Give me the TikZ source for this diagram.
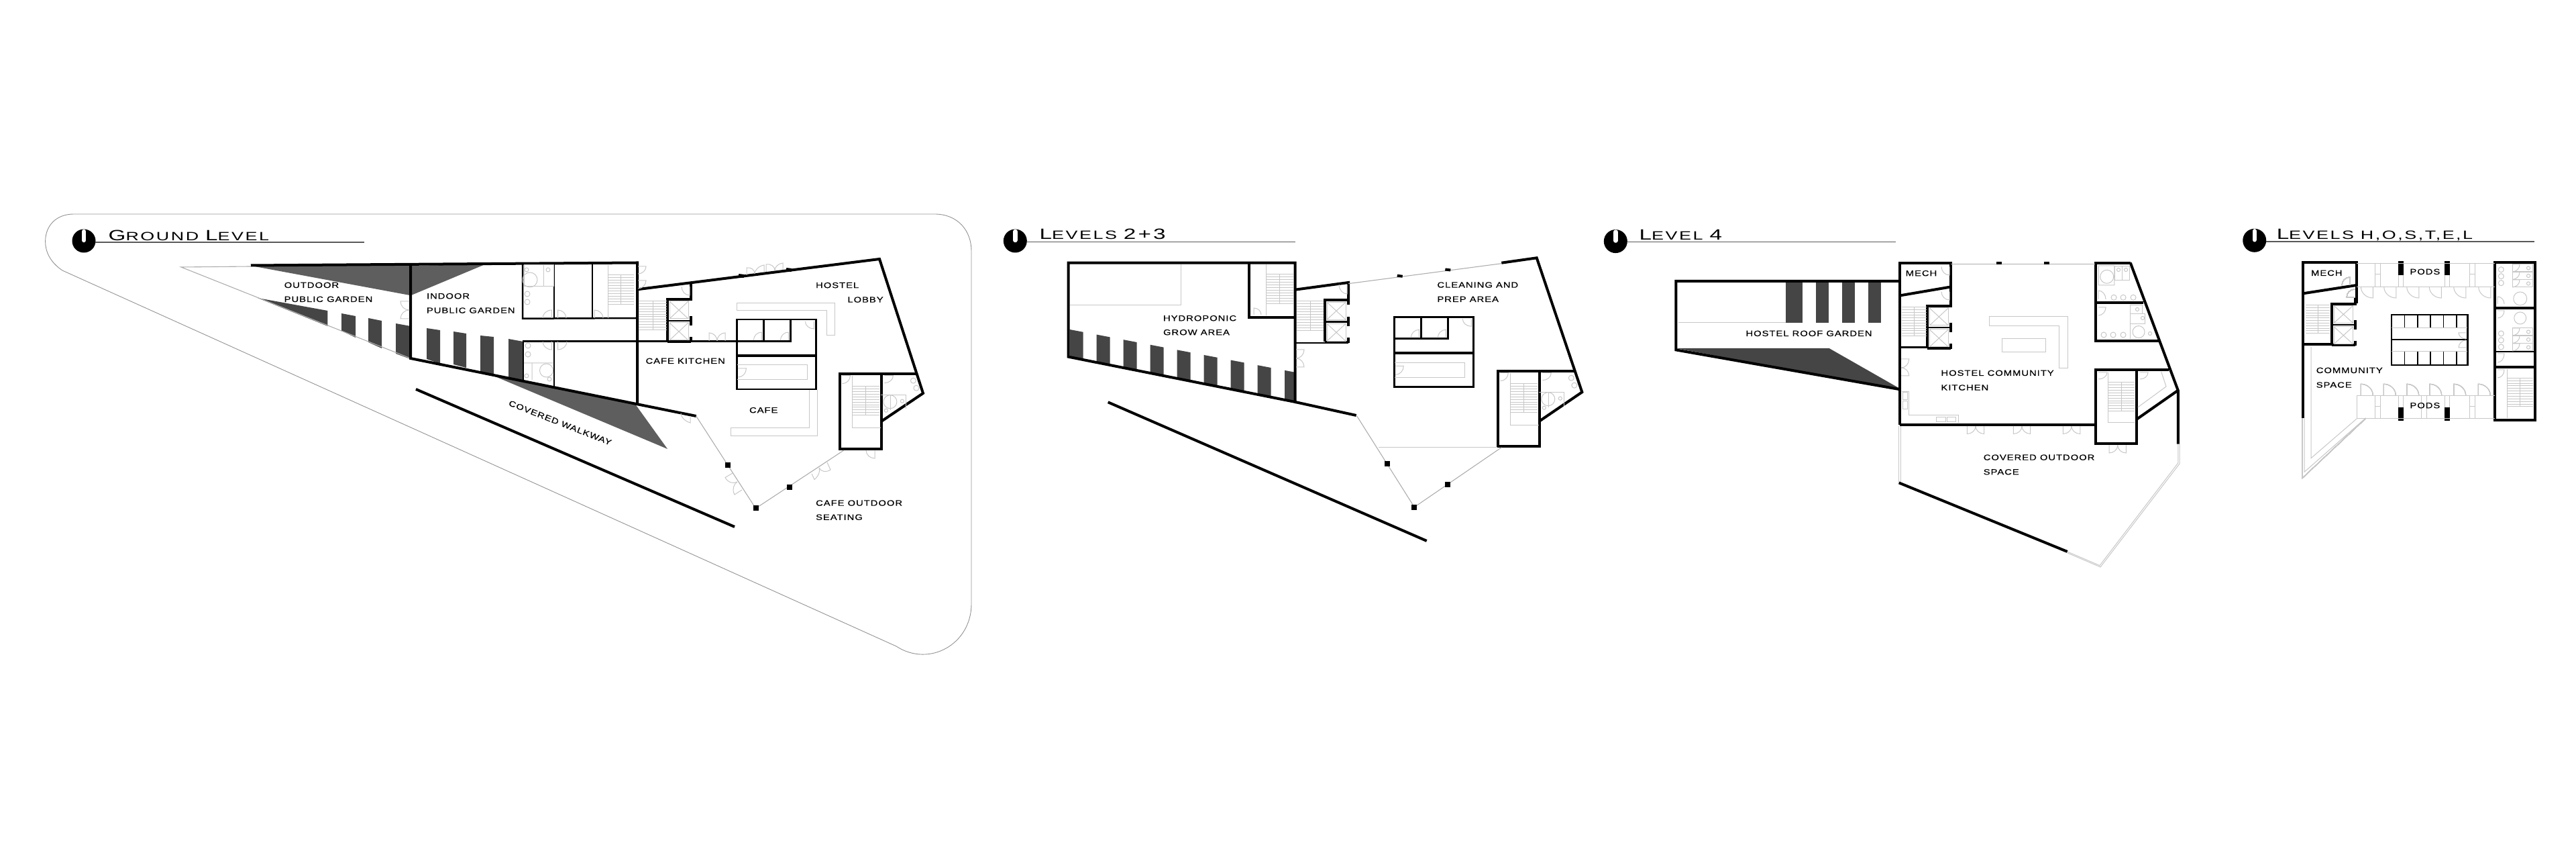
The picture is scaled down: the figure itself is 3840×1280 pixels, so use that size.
\documentclass[tikz,border=0pt]{standalone}
\usepackage{fontspec}
\usetikzlibrary{calc}
\newfontfamily\labelfont[FakeStretch=1.24,LetterSpace=8,FakeBold=0.4]{Liberation Sans}
\newfontfamily\titlefont[FakeStretch=1.5,LetterSpace=14]{Liberation Sans}
\definecolor{stripe}{gray}{0.27}
\definecolor{wedgegray}{gray}{0.37}
\definecolor{fixline}{gray}{0.78}
\definecolor{glassline}{gray}{0.68}
\tikzset{
	wall/.style={line width=0.04cm,black},
	partition/.style={line width=0.025cm,black},
	fixture/.style={line width=0.01cm,fixline},
	glass/.style={line width=0.011cm,glassline},
	outline/.style={line width=0.009cm,gray!85},
	post/.style={fill=black,draw=none},
	roomlabel/.style={font=\labelfont\fontsize{3.4pt}{3.4pt}\selectfont,inner sep=0pt,anchor=base west},
	leveltitle/.style={font=\titlefont\fontsize{5.1pt}{5.1pt}\selectfont,inner sep=0pt,anchor=base west},
}
\newcommand{\capl}[1]{{\fontsize{6.3pt}{6.3pt}\selectfont #1}}
% hinge, leaf end, closing point
\newcommand{\door}[3]{\draw[fixture] (#1) -- (#2) .. controls ($(#2)+0.55*(#3)-0.55*(#1)$) and ($(#3)+0.55*(#2)-0.55*(#1)$) .. (#3);}
\newcommand{\stairrun}[4]{%
	\foreach \t in {0,...,11}
		\draw[fixture] (#1,{#2+\t*(#4-#2)/11}) -- (#3,{#2+\t*(#4-#2)/11});
	\draw[fixture] ({(#1+#3)/2},#2) -- ({(#1+#3)/2},#4);}
\newcommand{\northmark}[4]{%
	\fill (#1,#2) circle (17.5);
	\draw[white,line width=0.065cm,line cap=round] (#1,#2-14) -- (#1,#2-1);
	\draw[line width=0.012cm,gray!70!black] (#1+17,#3) -- (#4,#3);}
% lift shafts, origin at the inner top corner of the core
\newcommand{\liftcore}{%
	\draw[wall] (0,62) -- (0,0) -- (35,0) -- (35,-10);
	\draw[partition] (0,32) -- (35,32);
	\draw[wall] (35,25) -- (35,39) (35,56) -- (35,64);
	\draw[wall] (0,63) -- (35,63);
	\foreach \y in {3,35}{
		\draw[fixture] (3,\y) rectangle (31,\y+26);
		\draw[fixture] (3,\y) -- (31,\y+26) (3,\y+26) -- (31,\y);}}
% washroom block, origin at its top left
\newcommand{\washblock}{%
	\draw[partition] (0,0) rectangle (118,104);
	\draw[wall] (0,54) -- (118,54);
	\draw[partition] (0,32) -- (80,32) -- (80,0) (40,0) -- (40,32);
	\door{37,31}{37,19}{25,31}
	\door{77,31}{77,19}{65,31}
	\door{115,3}{115,14}{102,3}
	\draw[fixture] (1,68) -- (105,68) -- (105,90) -- (1,90);
	\door{2,73}{14,73}{2,86}}
% stair tower and corner washroom, origin at the tower's top left
\newcommand{\eaststair}{%
	\draw[wall] (0,0) rectangle (61.5,112);
	\draw[wall] (61.5,0) -- (113,0);
	\stairrun{18.5}{19}{58.5}{62}
	\draw[fixture] (18.5,3) -- (18.5,81) -- (61,81);
	\door{3,3}{15,3}{3,15}
	\door{66,3}{79,3}{66,14}
	\draw[fixture] (109,10.5) circle (4) (113.5,21.5) circle (4) (74.5,42) circle (10);
	\draw[fixture] (61,32) -- (98,32) -- (98,52) (75,32) -- (75,54);
	\draw[fixture] (92.5,41) circle (2.6) (68.5,55) circle (2.6);}
\begin{document}
\begin{tikzpicture}[x=0.01cm,y=-0.01cm]
	\useasboundingbox (0,0) rectangle (3840,1280);
	\draw[outline] (110,319) -- (1393,319) .. controls (1428,319) and (1448,344) .. (1448,374) -- (1448,900)
		.. controls (1448,960) and (1385,995) .. (1336,963) -- (93,403)
		.. controls (75,391) and (67.6,375) .. (67.6,360) .. controls (67.6,335) and (85,319) .. (110,319) -- cycle;

	% ground level
	\northmark{125}{359}{361}{543}
	\node[leveltitle] (groundtitle) at (161,358.3) {\capl{G}ROUND \capl{L}EVEL};
	\fill[wedgegray] (374,396) -- (611,396) -- (611,440) -- cycle;
	\fill[wedgegray] (613,396) -- (723,394) -- (613,440) -- cycle;
	\fill[wedgegray] (735.6,560) -- (947.5,603) -- (995,669) -- cycle;
	\fill[stripe] (384,444) -- (488.4,463) -- (488.4,486) -- cycle;
	\foreach \xa/\xb/\ya/\yb/\yc/\yd in {509/530/467/471/493/503,549/569/474/478/510/519,590/612/482/486/527/535,
		636/656/489/492/535/542,676/695/494/497/543/548,716/736/500/502/556/560,758/780/505/509/564/569}
		\fill[stripe] (\xa,\ya) -- (\xb,\yb) -- (\xb,\yd) -- (\xa,\yc) -- cycle;
	\draw[glass] (374,397) -- (270,398) -- (612,534);
	\draw[wall] (374,395.5) -- (950,391.5) -- (950,602);
	\draw[wall] (612,395) -- (612,534) -- (1037.7,620);
	\draw[wall] (950,431.3) -- (1311,386) -- (1376,586) -- (1313.6,628);
	\draw[wall] (1030,423) -- (1030,446);
	\draw[wall] (620,580) -- (1095,785);
	\draw[partition] (779,393) -- (779,474.7) -- (950,474);
	\draw[partition] (826,393) -- (826,474.5) (883,393) -- (883,474.5);
	\draw[partition] (779,508.4) -- (1179.6,508.4);
	\draw[partition] (780,508) -- (780,566) (826,508) -- (826,577);
	\begin{scope}[shift={(995,446)}]\liftcore\end{scope}
	\begin{scope}[shift={(1098.4,476)}]\washblock\end{scope}
	\begin{scope}[shift={(1252.4,556.7)}]\eaststair\end{scope}
	\stairrun{906}{409.5}{945}{453.6}
	\draw[fixture] (906,395) -- (906,474);
	\stairrun{952}{448.6}{994}{491.5}
	\draw[glass] (1037.7,620) -- (1126.5,757.5) -- (1257.8,671);
	\foreach \x/\y in {1085/692.7,1176.5/726,1126.5/757.5}
		\fill[post] (\x-4,\y-4) rectangle (\x+4,\y+4);
	\foreach \x/\y/\a in {1105/411/-7,1176/402/-7}
		\fill[post,rotate around={\a:(\x,\y)}] (\x-4,\y-2.5) rectangle (\x+4,\y+2.5);
	\draw[fixture] (1098,451.5) -- (1244.4,451.5) -- (1244.4,500) -- (1232,500) -- (1232,463) -- (1098,463) -- cycle;
	\draw[fixture] (1206.4,580.7) -- (1206.4,638) -- (1089.5,638) -- (1089.5,650) -- (1218.5,650) -- (1218.5,580.7);
	\door{610,449}{597,449}{610,462}
	\door{610,475}{597,475}{610,462}
	\door{951,397}{963,397}{951,408}
	\door{951,418}{963,418}{951,430}
	\door{822.5,474}{822.5,462}{809,474}
	\door{831.5,474}{831.5,462}{844,474}
	\door{886,474}{886,462}{899,474}
	\door{822.5,509}{822.5,521}{809,509}
	\door{831.5,509}{831.5,521}{845,509}
	\door{1113,410}{1113,399}{1125,408}
	\door{1139,405.5}{1139,395}{1125,408}
	\door{1142,405}{1142,394}{1155,403}
	\door{1167,402}{1167,392}{1155,403}
	\door{1057,508}{1057,496}{1069,508}
	\door{1081,508}{1081,496}{1069,508}
	\door{1028,427}{1028,440}{1016,427}
	\door{1029,620}{1029,630}{1015,616}
	\door{1092,705}{1081,711.6}{1099,718}
	\door{1106,730}{1095,737}{1099,718}
	\door{1233,689}{1238,700}{1221,697}
	\door{1210,706}{1214,714.6}{1221,697}
	\door{1304,671}{1304,683}{1291,671}
	\draw[fixture] (781,395) rectangle (825,427) (810,395) -- (810,427);
	\draw[fixture] (790,417) circle (11) (786,438) circle (4) (786,450) circle (4) (817,402) circle (3) (785,402) circle (3);
	\draw[fixture] (787,515) circle (4) (787,528) circle (4) (814.5,552) circle (10);
	\draw[fixture] (781,541) -- (825,541) (793,541) -- (793,566) (785,560) circle (3) (819,565) circle (3);
	\node[roomlabel] (outdoorlabel) at (423,429) {OUTDOOR};
	\node[roomlabel] (outgardenlabel) at (423,450) {PUBLIC GARDEN};
	\node[roomlabel] (indoorlabel) at (635.3,445.3) {INDOOR};
	\node[roomlabel] (ingardenlabel) at (635.3,466.7) {PUBLIC GARDEN};
	\node[roomlabel] (hostellabel) at (1215.4,429.2) {HOSTEL};
	\node[roomlabel] (lobbylabel) at (1262.7,450.7) {LOBBY};
	\node[roomlabel] (kitchenlabel) at (961.8,542) {CAFE KITCHEN};
	\node[roomlabel] (cafelabel) at (1116.3,615.3) {CAFE};
	\node[roomlabel] (seatinglabel) at (1215.4,753.7) {CAFE OUTDOOR};
	\node[roomlabel] (seatinglabelb) at (1215.4,774.8) {SEATING};
	\node[roomlabel,anchor=center,rotate=-21.5] (walkwaylabel) at (835,630) {COVERED WALKWAY};

	% levels 2+3
	\northmark{1513.3}{359}{360.7}{1931}
	\node[leveltitle] (growtitle) at (1549,356.7) {\capl{L}EVELS \capl{2+3}};
	\foreach \x/\w in {1594.7/20,1634.7/20,1674.7/20,1714.7/20,1754.7/20,1794.7/20,1834.7/20,1874.7/20,1915/14}
		\fill[stripe] (\x,{491+0.19*(\x-1594.7)}) -- (\x+\w,{491+0.19*(\x+\w-1594.7)})
			-- (\x+\w,{532.5+0.2*(\x+\w-1594.7)}) -- (\x,{532.5+0.2*(\x-1594.7)}) -- cycle;
	\draw[wall] (1592.7,391.7) -- (1930.7,391.7) -- (1930.7,599) -- (1592.7,531.7) -- cycle;
	\draw[wall] (1861.7,391.7) -- (1861.7,473.3) -- (1930.7,473.3);
	\draw[wall] (1930.7,599) -- (2021.7,619);
	\draw[wall] (1930.7,431.7) -- (2010,421) -- (2010,454);
	\draw[glass] (2010,422.7) -- (2238,392.7);
	\draw[wall] (2238.3,391.7) -- (2290.7,384.3) -- (2358.3,584.3) -- (2296,626.7);
	\draw[partition] (1930.7,511) -- (2010,511);
	\begin{scope}[shift={(1975,447.3)}]\liftcore\end{scope}
	\begin{scope}[shift={(2078.3,472.3)}]\washblock\end{scope}
	\begin{scope}[shift={(2233.3,552.7)}]\eaststair\end{scope}
	\stairrun{1887}{409}{1928}{453}
	\draw[fixture] (1887,394) -- (1887,470);
	\stairrun{1933}{449}{1973}{493}
	\draw[glass] (2022.7,620) -- (2108.3,755.7) -- (2238.3,666.7);
	\draw[fixture] (2055,666.7) -- (2232,666.7);
	\foreach \x/\y in {2067.7/691.3,2157.7/722,2108.3/755.7}
		\fill[post] (\x-4,\y-4) rectangle (\x+4,\y+4);
	\foreach \x/\y in {2086.7/411.3,2158.3/402}
		\fill[post,rotate around={-7:(\x,\y)}] (\x-4,\y-2) rectangle (\x+4,\y+2);
	\draw[wall] (1651.7,599.3) -- (2126.7,806);
	\draw[fixture] (1595,455) -- (1760,455) -- (1760,394);
	\door{1932,521}{1944,521}{1932,534}
	\door{1932,547}{1944,547}{1932,534}
	\door{1869,469}{1869,459}{1880,469}
	\door{2008,424}{2008,438}{1996,424}
	\node[roomlabel] (hydrolabel) at (1733.3,478.3) {HYDROPONIC};
	\node[roomlabel] (growlabel) at (1733.3,499.3) {GROW AREA};
	\node[roomlabel] (cleanlabel) at (2141.7,428.7) {CLEANING AND};
	\node[roomlabel] (preplabel) at (2141.7,450) {PREP AREA};

	% level 4
	\northmark{2408.3}{359.6}{360.7}{2825.7}
	\node[leveltitle] (rooftitle) at (2443,358) {\capl{L}EVEL \capl{4}};
	\fill[stripe] (2498.3,519) -- (2726.7,519) -- (2830.7,578.3) -- (2830.7,581) -- cycle;
	\foreach \xa/\xb in {2661.7/2686.7,2706.7/2726,2746/2765,2785/2804.3}
		\fill[stripe] (\xa,420) rectangle (\xb,481);
	\draw[fixture] (2501.7,481) -- (2661.7,481);
	\draw[wall] (2830.7,418.8) -- (2498.3,418.8) -- (2498.3,521.4) -- (2830.7,580);
	\draw[wall] (2831.7,633) -- (2831.7,391.6) -- (2908.3,391.6) -- (2908.3,456);
	\draw[wall] (2831.7,440.5) -- (2908.3,427.4);
	\draw[wall] (2831.7,632.7) -- (3124,632.7);
	\draw[partition] (2831.7,517.3) -- (2875,517.3);
	\begin{scope}[shift={(2873.3,456)}]\liftcore\end{scope}
	\stairrun{2835}{457.7}{2872}{500.8}
	\draw[wall] (3175.7,391.6) -- (3124,391.6) -- (3124,507.7) -- (3218.3,507.7);
	\draw[wall] (3175.7,391.6) -- (3246.7,581.7) -- (3246.7,661.6);
	\draw[wall] (3124,451.5) -- (3195,451.5);
	\draw[wall] (3233.3,551.4) -- (3124,551.4) -- (3124,661) -- (3185,661) -- (3185,551.4);
	\draw[wall] (3185,624.8) -- (3246.7,581.7);
	\draw[wall] (2830.7,719.4) -- (3081.7,822);
	\draw[glass] (2908.3,393.3) -- (3123.3,393.3);
	\foreach \x in {2980,3050.7}
		\fill[post] (\x-4,390) rectangle (\x+4,394);
	\draw[fixture] (2830.7,635) -- (2830.7,718.8) (2833,635) -- (2833,718);
	\draw[fixture] (3246.7,661.6) -- (3246.7,690) -- (3130,842.7) -- (3081.7,822);
	\draw[fixture] (3249,661.6) -- (3249,691) -- (3131,845) -- (3082,824);
	\draw[fixture] (2965,471.5) -- (3082.7,471.5) -- (3082.7,549) -- (3069,549) -- (3069,485.3) -- (2965,485.3) -- cycle;
	\draw[fixture] (2984.3,504.2) rectangle (3049.3,524.2);
	\draw[fixture] (2835,583.4) -- (2845,583.4) -- (2845,619) -- (2919,619) -- (2919,630);
	\draw[fixture] (2836,584.5) rectangle (2843.5,596) (2836,598) rectangle (2843.5,610);
	\draw[fixture] (2886.7,622) rectangle (2900,628.5) (2902.3,622) rectangle (2915.7,628.5);
	\stairrun{3142.7}{569.7}{3181.7}{612.7}
	\draw[fixture] (3142.7,555) -- (3142.7,630) -- (3182,630);
	\door{2906,397.5}{2906,410}{2894,397.5}
	\door{2906,434.7}{2906,447}{2894,434.7}
	\door{2834,535}{2845.7,535}{2834,548}
	\door{2834,560}{2845.7,560}{2834,548}
	\foreach \c/\y/\l in {2945/635/646.5,3014/635/646.5,3088/635/646.5,3156.7/663.5/675}{
		\door{\c-12.7,\y}{\c-12.7,\l}{\c,\y}
		\door{\c+12.7,\y}{\c+12.7,\l}{\c,\y}}
	\door{3128,555}{3141,555}{3128,565}
	\door{3190,555}{3202,555}{3190,565}
	\door{3128,446}{3128,433}{3139,446}
	\door{3128,458}{3139,458}{3128,470}
	\draw[fixture] (3221.7,554) -- (3229,576) -- (3186.7,607);
	\draw[fixture] (3128.3,395.8) rectangle (3151.7,425) (3140.7,412.3) circle (10);
	\draw[fixture] (3152.7,396.5) rectangle (3163,417.5) (3163.5,396.5) rectangle (3174,417.5);
	\draw[fixture] (3158,402) circle (2.6) (3169,402) circle (2.6);
	\foreach \x in {3151,3165,3180}
		\draw[fixture] (\x,443.3) circle (4);
	\foreach \x in {3136,3150,3165}
		\draw[fixture] (\x,499) circle (4);
	\draw[fixture] (3175.7,455) rectangle (3193,468) (3175.7,468) rectangle (3197,483) (3175.7,483) -- (3175.7,505);
	\draw[fixture] (3188,494.6) circle (9) (3186,461) circle (2.6) (3194,474) circle (2.6) (3205,497) circle (2.6);
	\node[roomlabel] (mechlabel) at (2840,411.3) {MECH};
	\node[roomlabel] (rooflabel) at (2601.7,501) {HOSTEL ROOF GARDEN};
	\node[roomlabel] (communitylabel) at (2892.7,560) {HOSTEL COMMUNITY};
	\node[roomlabel] (commkitchenlabel) at (2892.7,581.7) {KITCHEN};
	\node[roomlabel] (coveredlabel) at (2956,685.7) {COVERED OUTDOOR};
	\node[roomlabel] (spacelabel) at (2956,707.4) {SPACE};

	% levels h,o,s,t,e,l
	\northmark{3360.7}{358.3}{360}{3778}
	\node[leveltitle] (podtitle) at (3393,356.7) {\capl{L}EVELS H,O,S,T,E,L};
	\draw[wall] (3433.3,623.3) -- (3433.3,390.7) -- (3512.7,390.7) -- (3512.7,452);
	\draw[wall] (3433.3,437.3) -- (3512.7,425);
	\draw[wall] (3433.3,513.3) -- (3476,513.3);
	\begin{scope}[shift={(3476.3,452.7)},yscale=0.98]\liftcore\end{scope}
	\stairrun{3437}{455}{3473}{496.7}
	\draw[wall] (3719.3,390.7) rectangle (3779.3,626);
	\draw[wall] (3719.3,459) -- (3779.3,459) (3719.3,546.7) -- (3779.3,546.7);
	\draw[partition] (3719.3,524) -- (3779.3,524);
	\stairrun{3737.7}{563.3}{3775.7}{606}
	\draw[fixture] (3737.7,550) -- (3737.7,623);
	\draw[partition] (3565,469) rectangle (3678.3,544);
	\draw[partition] (3565,506) -- (3678.3,506);
	\foreach \x in {3584.3,3603.7,3623,3642.3,3661.7}
		\draw[partition,line width=0.015cm] (\x,469) -- (\x,489) (\x,523.3) -- (\x,544);
	\draw[fixture] (3565,489) -- (3678,489) (3565,523.3) -- (3678,523.3);
	\door{3676,496}{3665,496}{3676,505}
	\door{3676,518}{3665,518}{3676,507}
	\foreach \xa/\xb in {3575/3582.7,3644.3/3651.7}{
		\fill[post] (\xa,389) rectangle (\xb,410);
		\fill[post] (\xa,606.7) rectangle (\xb,627.3);
		\draw[fixture] (\xa,410) -- (\xa,427.3) (\xb,410) -- (\xb,427.3) (\xa,589.3) -- (\xa,606.7) (\xb,589.3) -- (\xb,606.7);}
	\draw[fixture] (3513,392.7) -- (3719,392.7) (3513,427.3) -- (3719,427.3);
	\draw[fixture] (3513,589.3) -- (3719,589.3) (3513,623.3) -- (3719,623.3) (3513.3,589.3) -- (3513.3,623.3);
	\foreach \xa/\xb in {3540/3548.3,3681.7/3689.3}{
		\draw[fixture] (\xa,393) -- (\xa,427) (\xb,393) -- (\xb,427) (\xa,409) -- (\xb,409);
		\draw[fixture] (\xa,589) -- (\xa,623) (\xb,589) -- (\xb,623) (\xa,606) -- (\xb,606);}
	\draw[fixture] (3609.3,589) -- (3609.3,623) (3617.7,589) -- (3617.7,623);
	\foreach \x in {3537.3,3571.7,3605.7,3639.3,3675.7,3712.7}
		\door{\x,427.3}{\x,444}{\x-18,427.3}
	\foreach \x in {3519.3,3553.3,3587.7,3621.7,3657.7,3694.3}
		\door{\x,589.3}{\x,572.3}{\x+18,589.3}
	\door{3503.3,425}{3503.3,413}{3491,425}
	\door{3510,443.3}{3498,443.3}{3510,431}
	\draw[fixture] (3526.7,623.3) -- (3431.7,712.7) -- (3431.7,624);
	\draw[fixture] (3524,625) -- (3435,703.3) -- (3435,623.3);
	\draw[fixture] (3513,624) -- (3445,682.7) -- (3445,516.7);
	\foreach \yc in {401.7,411.7,421.7,497,507,517}
		\draw[fixture] (3728.3,\yc) circle (4);
	\draw[fixture] (3756.7,445) circle (10) (3756.7,474) circle (9);
	\foreach \y in {394,405.5,417,489,500.5,512}{
		\draw[fixture] (3745,\y) rectangle (3775,\y+11);
		\draw[fixture] (3769,\y+5.5) circle (2.6);
		\door{3745,\y}{3756,\y}{3745,\y+11}}
	\door{3723,453}{3723,442}{3733,453}
	\door{3723,463}{3733,463}{3723,474}
	\door{3723,527}{3733,527}{3723,540}
	\door{3723,551}{3733,551}{3723,563}
	\node[roomlabel] (mechlabelb) at (3444.3,411) {MECH};
	\node[roomlabel] (podslabel) at (3591.7,409) {PODS};
	\node[roomlabel] (podslabelb) at (3591.7,608.3) {PODS};
	\node[roomlabel] (commlabel) at (3452,556) {COMMUNITY};
	\node[roomlabel] (commspacelabel) at (3452,577.7) {SPACE};
\end{tikzpicture}
\end{document}
